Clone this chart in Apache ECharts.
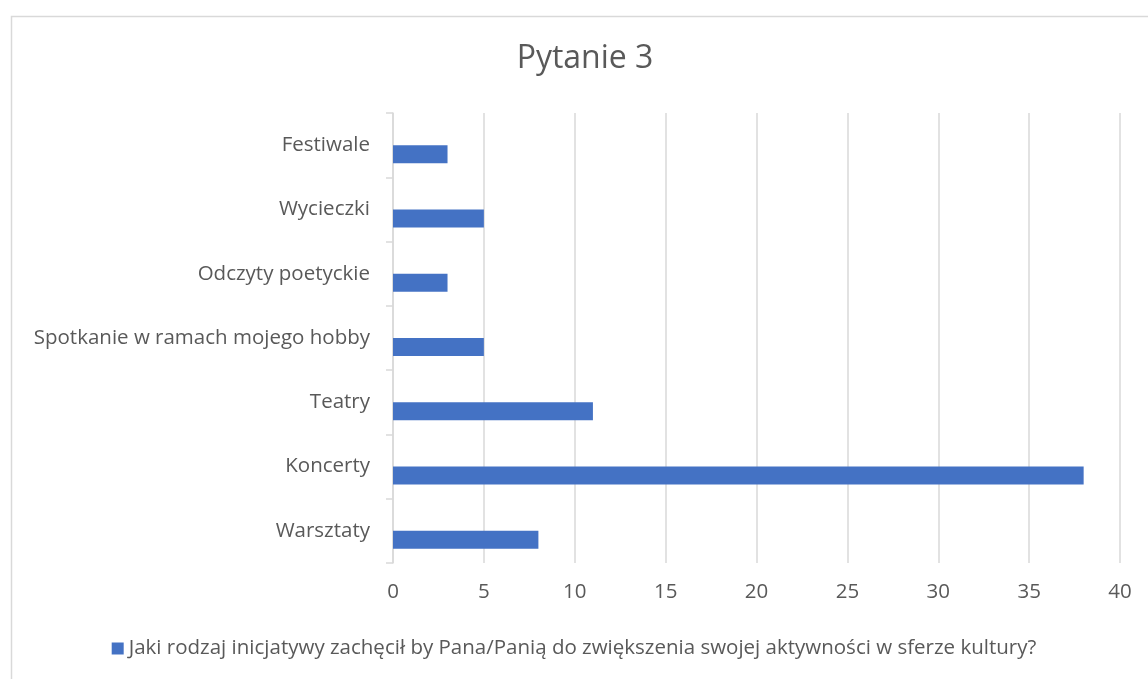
<!DOCTYPE html>
<html><head><meta charset="utf-8">
<script src="https://cdn.jsdelivr.net/npm/echarts@6/dist/echarts.min.js"></script>
<style>html,body{margin:0;padding:0;background:#fff}#c{width:1148px;height:679px}</style>
</head><body><div id="c"></div>
<script>
const categories = ['Warsztaty','Koncerty','Teatry','Spotkanie w ramach mojego hobby','Odczyty poetyckie','Wycieczki','Festiwale'];
const values = [8, 38, 11, 5, 3, 5, 3];
const seriesName = 'Jaki rodzaj inicjatywy zachęcił by Pana/Panią do zwiększenia swojej aktywności w sferze kultury?';
const xTicks = [0, 5, 10, 15, 20, 25, 30, 35, 40];
const titleText = 'Pytanie 3';
const FONT = '"Open Sans", sans-serif';
const chart = echarts.init(document.getElementById('c'));
chart.setOption({
  animation: false,
  backgroundColor: '#fff',
  title: { text: titleText, left: 580, textAlign: 'center', top: 38, textStyle: { fontFamily: FONT, fontSize: 32, fontWeight: 'normal', color: '#595959' } },
  grid: { left: 393, right: 28, top: 113, bottom: 116 },
  legend: { data: [seriesName], top: 633, left: 'center', itemWidth: 12, itemHeight: 12, itemGap: 6, icon: 'rect',
    textStyle: { fontFamily: FONT, fontSize: 20.5, color: '#595959' } },
  xAxis: { type: 'value', min: xTicks[0], max: xTicks[xTicks.length-1], interval: 5,
    axisLine: { show: false }, axisTick: { show: false },
    axisLabel: { fontFamily: FONT, fontSize: 20.5, color: '#595959', margin: 19 },
    splitLine: { lineStyle: { color: '#d9d9d9', width: 1.5 } } },
  yAxis: { type: 'category', data: categories,
    axisLine: { lineStyle: { color: '#d9d9d9', width: 1.5 } },
    axisTick: { show: true, length: 7, lineStyle: { color: '#d9d9d9', width: 1.5 } },
    axisLabel: { fontFamily: FONT, fontSize: 20.5, color: '#595959', margin: 23 } },
  graphic: [{ type: 'rect', left: 9, top: 14, shape: { width: 1200, height: 800 }, style: { fill: null, stroke: '#d9d9d9', lineWidth: 1.5 }, silent: true }],
  series: [
    { name: '_', type: 'bar', data: values.map(() => null), barWidth: 18, barGap: '0%' },
    { name: seriesName, type: 'bar', data: values, barWidth: 18, barGap: '0%', itemStyle: { color: '#4472c4' } }
  ]
});
</script></body></html>
